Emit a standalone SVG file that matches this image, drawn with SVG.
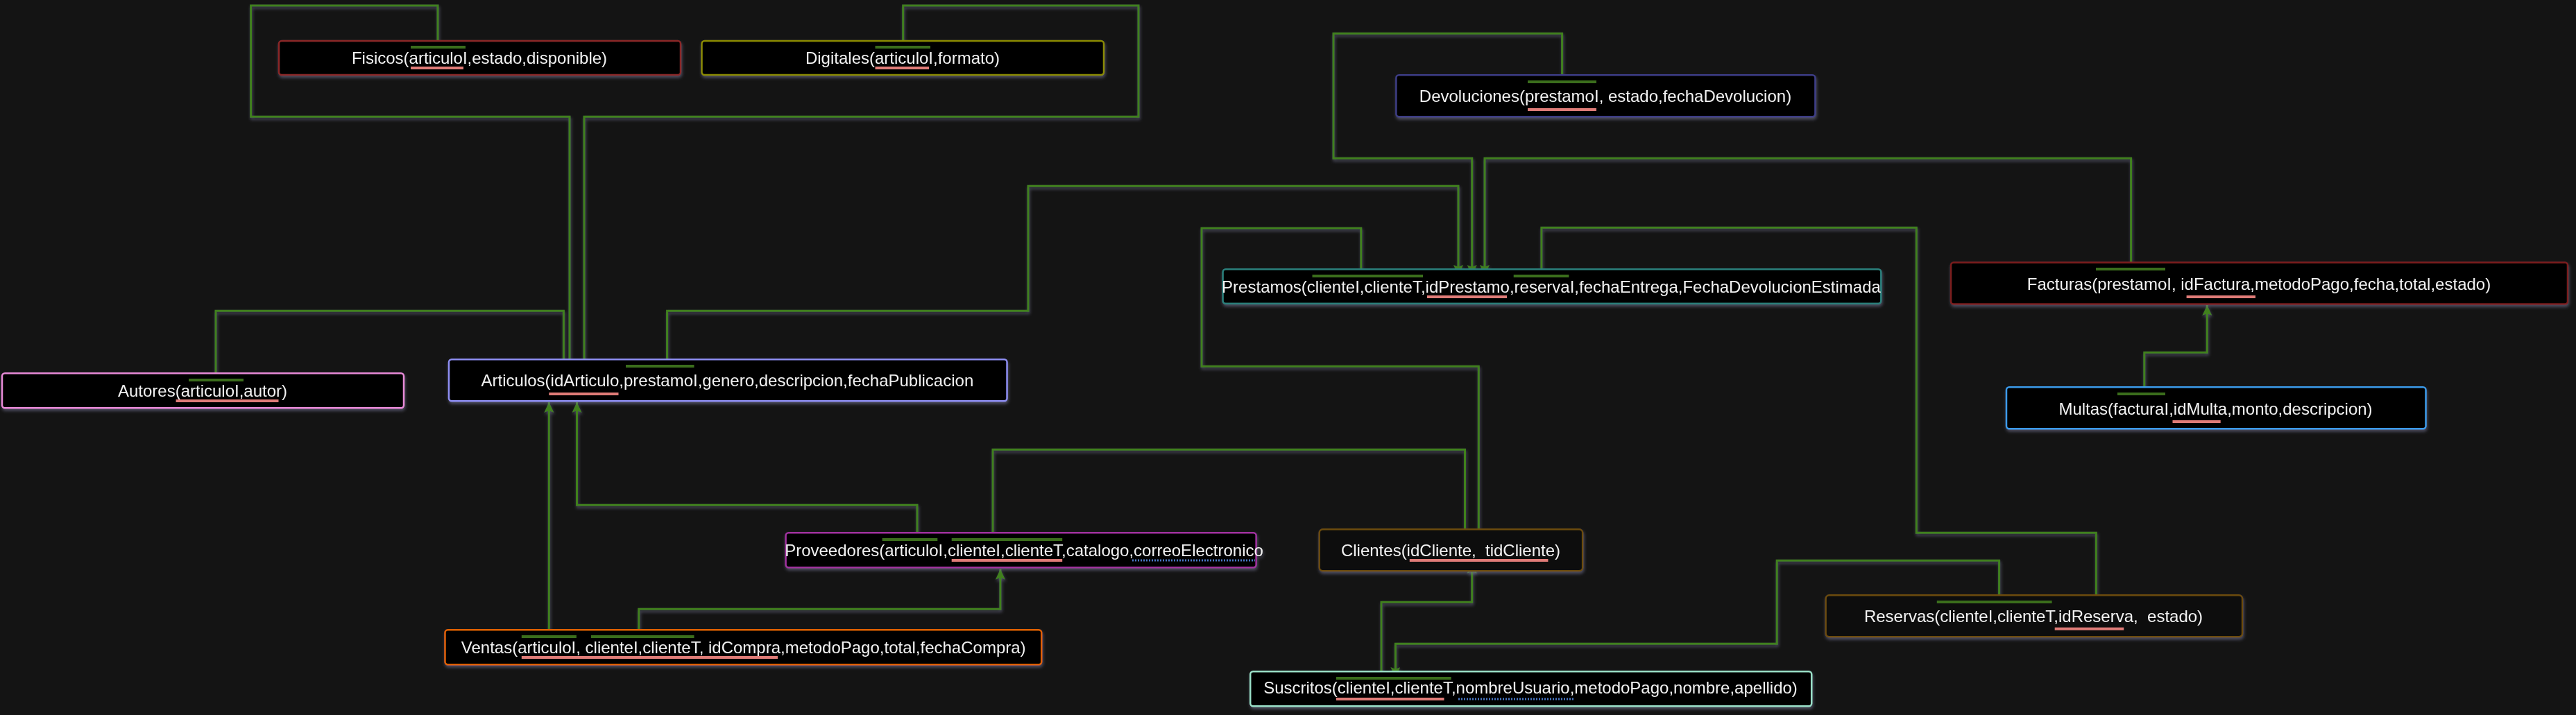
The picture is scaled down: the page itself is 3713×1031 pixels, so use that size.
<svg xmlns="http://www.w3.org/2000/svg" width="3713" height="1031" viewBox="0 0 3713 1031">
<defs>
<filter id="sh" filterUnits="userSpaceOnUse" x="0" y="0" width="3713" height="1031">
<feDropShadow dx="1" dy="3" stdDeviation="2" flood-color="#7c7c9c" flood-opacity="0.55"/>
</filter>
<marker id="ar" markerUnits="userSpaceOnUse" markerWidth="15" markerHeight="14" refX="15" refY="7" orient="auto">
<path d="M0,0 L15,7 L0,14 L3,7 z" fill="#41801f"/>
</marker>
<style>
.bg{fill:#141414}
.box{fill:#000;stroke-width:2.5}
.t{font-family:"Liberation Sans",Arial,sans-serif;font-size:24px;fill:#f2f2f2;text-anchor:middle;white-space:pre}
.c{fill:none;stroke:#41801f;stroke-width:3}
.k{stroke:#3a6e1a;stroke-width:4}
.u{stroke:#e07c78;stroke-width:4}
.d{stroke:#4a78c8;stroke-width:3;stroke-dasharray:2 2}
</style>
</defs>
<rect class="bg" x="0" y="0" width="3713" height="1031"/>
<g id="connectors" filter="url(#sh)">
<path class="c" d="M631,68 V8 H361.6 V168.3 H821 V537" marker-end="url(#ar)"/>
<path class="c" d="M1301.7,68 V8 H1641 V168.3 H842 V537" marker-end="url(#ar)"/>
<path class="c" d="M311,548 V448.3 H812.4 V537" marker-end="url(#ar)"/>
<path class="c" d="M961.6,528 V448.3 H1482 V268.3 H2102 V397" marker-end="url(#ar)"/>
<path class="c" d="M2251.6,118 V48.3 H1922 V228.3 H2121.7 V397" marker-end="url(#ar)"/>
<path class="c" d="M3071.6,388 V228.3 H2140 V397" marker-end="url(#ar)"/>
<path class="c" d="M1961.8,398 V329 H1732 V528.3 H2131.3 V777" marker-end="url(#ar)"/>
<path class="c" d="M2221.9,398 V328.3 H2762.3 V768.3 H3021.4 V877" marker-end="url(#ar)"/>
<path class="c" d="M3090.8,568 V508.3 H3181.3 V440" marker-end="url(#ar)"/>
<path class="c" d="M791.3,918 V580" marker-end="url(#ar)"/>
<path class="c" d="M1322,778 V728.3 H831.5 V580" marker-end="url(#ar)"/>
<path class="c" d="M1431,778 V648.3 H2111.5 V777" marker-end="url(#ar)"/>
<path class="c" d="M920.8,918 V878.3 H1441.9 V820.7" marker-end="url(#ar)"/>
<path class="c" d="M1991,978 V868.3 H2121.7 V811.7" marker-end="url(#ar)"/>
<path class="c" d="M2881.6,868 V808.3 H2561.2 V928.3 H2011.4 V977" marker-end="url(#ar)"/>
</g>
<g id="fisicos" filter="url(#sh)">
<rect class="box" x="402" y="59" width="579" height="49" rx="4" stroke="#8a2626"/>
<text class="t" x="691" y="91.5">Fisicos(articuloI,estado,disponible)</text>
<line class="k" x1="592" y1="68" x2="671" y2="68"/><line class="u" x1="592" y1="98" x2="668" y2="98"/>
</g>
<g id="digitales" filter="url(#sh)">
<rect class="box" x="1011.5" y="59" width="579.5" height="49" rx="4" stroke="#8a8a00"/>
<text class="t" x="1301" y="91.5">Digitales(articuloI,formato)</text>
<line class="k" x1="1261.5" y1="68" x2="1341" y2="68"/><line class="u" x1="1261.5" y1="98" x2="1339" y2="98"/>
</g>
<g id="devoluciones" filter="url(#sh)">
<rect class="box" x="2012.4" y="108.3" width="604" height="60" rx="4" stroke="#3c3c86"/>
<text class="t" x="2314" y="146.7">Devoluciones(prestamoI, estado,fechaDevolucion)</text>
<line class="k" x1="2202" y1="118" x2="2301" y2="118"/><line class="u" x1="2202" y1="158" x2="2301" y2="158"/>
</g>
<g id="facturas" filter="url(#sh)">
<rect class="box" x="2812" y="378.5" width="889" height="60" rx="4" stroke="#7c1e1e"/>
<text class="t" x="3256" y="418.3">Facturas(prestamoI, idFactura,metodoPago,fecha,total,estado)</text>
<line class="k" x1="3021" y1="388" x2="3121" y2="388"/><line class="u" x1="3151.6" y1="428" x2="3251" y2="428"/>
</g>
<g id="autores" filter="url(#sh)">
<rect class="box" x="3" y="538.3" width="579" height="50" rx="4" stroke="#e88ad8"/>
<text class="t" x="292" y="571.7">Autores(articuloI,autor)</text>
<line class="k" x1="272" y1="548" x2="351" y2="548"/><line class="u" x1="253.6" y1="578" x2="401.5" y2="578"/>
</g>
<g id="articulos" filter="url(#sh)">
<rect class="box" x="647" y="518.3" width="804.5" height="60" rx="4" stroke="#8e8ef2"/>
<text class="t" x="1048.4" y="556.7">Articulos(idArticulo,prestamoI,genero,descripcion,fechaPublicacion</text>
<line class="k" x1="902" y1="528" x2="1000.5" y2="528"/><line class="u" x1="791.3" y1="568" x2="891.5" y2="568"/>
</g>
<g id="prestamos" filter="url(#sh)">
<rect class="box" x="1762.6" y="388.3" width="948.7" height="49.5" rx="4" stroke="#2a807c"/>
<text class="t" x="2236" y="421.7">Prestamos(clienteI,clienteT,idPrestamo,reservaI,fechaEntrega,FechaDevolucionEstimada</text>
<line class="k" x1="1891.5" y1="398" x2="2051" y2="398"/><line class="k" x1="2181.7" y1="398" x2="2261.4" y2="398"/>
<line class="u" x1="2057" y1="428" x2="2172" y2="428"/>
</g>
<g id="multas" filter="url(#sh)">
<rect class="box" x="2892" y="558.3" width="604.5" height="60" rx="4" stroke="#3a9aea"/>
<text class="t" x="3193.5" y="598.3">Multas(facturaI,idMulta,monto,descripcion)</text>
<line class="k" x1="3052" y1="568" x2="3121" y2="568"/><line class="u" x1="3131.5" y1="608" x2="3200.7" y2="608"/>
</g>
<g id="proveedores" filter="url(#sh)">
<rect class="box" x="1132.6" y="768.3" width="678" height="50" rx="4" stroke="#a0309e"/>
<text class="t" x="1476" y="801.7">Proveedores(articuloI,clienteI,clienteT,catalogo,correoElectronico</text>
<line class="k" x1="1271.6" y1="778" x2="1351.3" y2="778"/><line class="k" x1="1371.7" y1="778" x2="1531.2" y2="778"/>
<line class="u" x1="1371.7" y1="808" x2="1531.2" y2="808"/><line class="d" x1="1632" y1="808" x2="1809" y2="808"/>
</g>
<g id="clientes" filter="url(#sh)">
<rect x="1901.7" y="763.3" width="379.5" height="60" rx="5" fill="#111" stroke="#6c4c0e" stroke-width="2.5"/>
<text class="t" x="2091" y="801.7">Clientes(idCliente,  tidCliente)</text>
<line class="u" x1="2031.8" y1="808" x2="2231.4" y2="808"/>
</g>
<g id="ventas" filter="url(#sh)">
<rect class="box" x="641.5" y="908.3" width="859.7" height="50" rx="4" stroke="#e06000"/>
<text class="t" x="1071.7" y="941.7">Ventas(articuloI, clienteI,clienteT, idCompra,metodoPago,total,fechaCompra)</text>
<line class="k" x1="751.8" y1="918" x2="830.9" y2="918"/><line class="k" x1="851.9" y1="918" x2="1000.5" y2="918"/>
<line class="u" x1="751.8" y1="948" x2="1121" y2="948"/>
</g>
<g id="suscritos" filter="url(#sh)">
<rect class="box" x="1802.2" y="968.3" width="809" height="50" rx="4" stroke="#9ae0c8"/>
<text class="t" x="2206" y="1000">Suscritos(clienteI,clienteT,nombreUsuario,metodoPago,nombre,apellido)</text>
<line class="k" x1="1926" y1="978" x2="2091.7" y2="978"/>
<line class="u" x1="1926" y1="1008" x2="2081.5" y2="1008"/><line class="d" x1="2102" y1="1008" x2="2268" y2="1008"/>
</g>
<g id="reservas" filter="url(#sh)">
<rect x="2631.6" y="858.3" width="600.5" height="60" rx="5" fill="#111" stroke="#6c4c0e" stroke-width="2.5"/>
<text class="t" x="2931" y="896.7">Reservas(clienteI,clienteT,idReserva,  estado)</text>
<line class="k" x1="2791.8" y1="868" x2="2957.6" y2="868"/><line class="u" x1="2961.7" y1="906.7" x2="3061.2" y2="906.7"/>
</g>
</svg>
